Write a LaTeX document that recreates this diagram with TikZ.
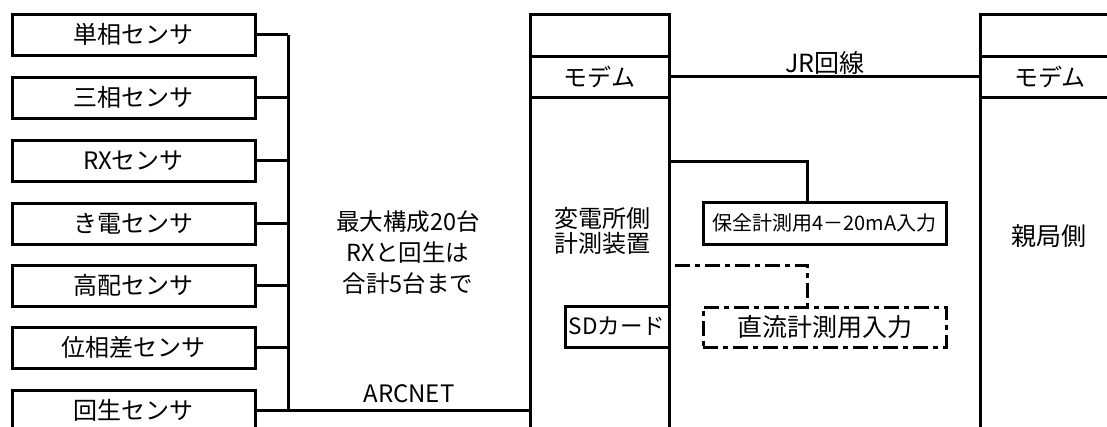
\documentclass[tikz,border=0pt]{standalone}
\usepackage{fontspec}
\setmainfont{Noto Sans CJK JP}
\begin{document}
\begin{tikzpicture}[x=1pt,y=-1pt,
  ln/.style={line width=3pt},
  sensor/.style={draw, ln, inner sep=0pt, minimum width=243pt, minimum height=41pt, font=\fontsize{24}{26}\selectfont},
  colbox/.style={draw, ln, inner sep=0pt, minimum width=139pt, font=\fontsize{24}{26}\selectfont},
  lbl/.style={inner sep=0pt, font=\fontsize{24}{26}\selectfont, align=center},
  dashdot/.style={ln, dash pattern=on 15pt off 5pt on 5pt off 5pt},
]
\useasboundingbox (0,0) rectangle (1107,426);
\clip (0,0) rectangle (1107,426);

% sensors
\node[sensor] (s1) at (133.5,34.5) {単相センサ};
\node[sensor] (s2) at (133.5,97.5) {三相センサ};
\node[sensor] (s3) at (133.5,160.5) {RXセンサ};
\node[sensor] (s4) at (133.5,223.5) {き電センサ};
\node[sensor] (s5) at (133.5,285.5) {高配センサ};
\node[sensor] (s6) at (133.5,347.5) {位相差センサ};
\node[sensor] (s7) at (133.5,410.5) {回生センサ};

% bus
\coordinate (bt) at (288,34.5);
\coordinate (bb) at (288,410.5);
\draw[ln] (bt) -- (bb);
\foreach \i in {1,...,6} {\draw[ln] (s\i.east) -- (s\i.east -| bt);}

% center column
\node[colbox, minimum height=42pt] (ctop) at (599.5,35) {};
\node[colbox, minimum height=41pt] (cm) at (599.5,76.5) {モデム};
\node[colbox, minimum height=353pt] (cbody) at (599.5,273.5) {};
\node[lbl, font=\fontsize{24}{25}\selectfont] (ctext) at (602,231) {変電所側\\計測装置};

% right column
\node[colbox, minimum width=140pt, minimum height=42pt] (rtop) at (1050,35) {};
\node[colbox, minimum width=140pt, minimum height=41pt] (rm) at (1050,76.5) {モデム};
\node[colbox, minimum width=140pt, minimum height=353pt] (rbody) at (1050,273.5) {};
\node[lbl, font=\fontsize{25}{26}\selectfont] (rtext) at (1049,236) {親局側};

% ARCNET
\draw[ln] (s7.east) -- (s7.east -| cbody.west);
\node[lbl] (arc) at (409,394) {ARCNET};

% middle text
\node[lbl, font=\fontsize{23.5}{31}\selectfont] (mtext) at (408,253) {最大構成20台\\RXと回生は\\合計5台まで};

% JR line
\draw[ln] (cm.east) -- (rm.west);
\node[lbl, font=\fontsize{25}{26}\selectfont] (jr) at (825,63) {JR回線};

% maintenance input
\node[draw, ln, inner sep=0pt, minimum width=243pt, minimum height=42pt, font=\fontsize{20}{22}\selectfont] (hoz) at (824.5,223) {保全計測用4－20mA入力};
\coordinate (j1) at (807,161);
\draw[ln] (j1 -| cbody.east) -- (j1) -- (j1 |- hoz.north);

% SD card
\node[draw, ln, inner sep=0pt, minimum width=104pt, minimum height=41pt, font=\fontsize{22.5}{24}\selectfont] (sd) at (617,326.5) {SDカード};

% DC input (dashed)
\node[draw, dashdot, inner sep=0pt, minimum width=243pt, minimum height=40pt, font=\fontsize{25}{26}\selectfont] (dc) at (824.5,327) {直流計測用入力};
\coordinate (d1) at (675,265);
\coordinate (d2) at (807,265);
\draw[dashdot] (d1) -- (d2) -- (d2 |- dc.north);
\end{tikzpicture}
\end{document}
